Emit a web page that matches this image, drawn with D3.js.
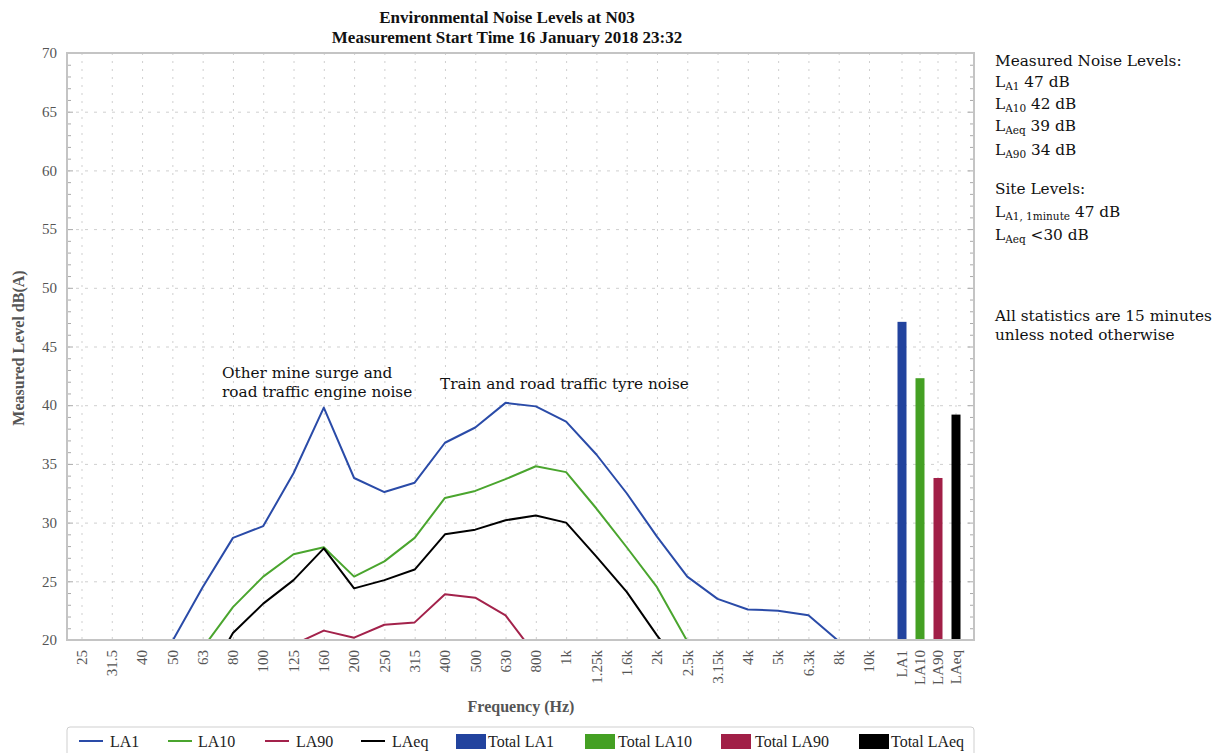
<!DOCTYPE html>
<html>
<head>
<meta charset="utf-8">
<script src="https://cdn.jsdelivr.net/npm/d3@7"></script>
<style>
  body { margin: 0; background: #fff; }
  svg { display: block; font-family: "Liberation Serif", "DejaVu Serif", serif; }
  .tick-label { fill: #555; font-size: 15px; }
  .note { fill: #111; font-size: 15.3px; font-family: "DejaVu Serif", serif; }
</style>
</head>
<body>
<svg id="chart" width="1217" height="753"></svg>
<script>
// frequency bands (Hz) and the four total columns
const freq_labels = ["25", "31.5", "40", "50", "63", "80", "100", "125", "160", "200",
  "250", "315", "400", "500", "630", "800", "1k", "1.25k", "1.6k", "2k", "2.5k",
  "3.15k", "4k", "5k", "6.3k", "8k", "10k"];
const total_labels = ["LA1", "LA10", "LA90", "LAeq"];

// spectra dB(A), null where nothing is drawn
const la1 = [null, null, null, 19.9, 24.5, 28.7, 29.7, 34.2, 39.8, 33.8, 32.6, 33.4,
  36.8, 38.1, 40.2, 39.9, 38.6, 35.8, 32.5, 28.8, 25.4, 23.5, 22.6, 22.5, 22.1, 19.9, null];
const la10 = [null, null, null, null, 19.3, 22.8, 25.4, 27.3, 27.9, 25.4, 26.7, 28.7,
  32.1, 32.7, 33.7, 34.8, 34.3, 31.2, 27.9, 24.5, 19.9, null, null, null, null, null, null];
const la90 = [null, null, null, null, null, null, null, 19.6, 20.8, 20.2, 21.3, 21.5,
  23.9, 23.6, 22.1, 18.7, null, null, null, null, null, null, null, null, null, null, null];
const laeq = [null, null, null, null, 16.0, 20.6, 23.1, 25.1, 27.8, 24.4, 25.1, 26.0,
  29.0, 29.4, 30.2, 30.6, 30.0, 27.1, 24.1, 20.4, 17.0, null, null, null, null, null, null];
const totals = [47.1, 42.3, 33.8, 39.2];

const y_ticks = [20, 25, 30, 35, 40, 45, 50, 55, 60, 65, 70];

const svg = d3.select("#chart");
const plot = { left: 67, right: 974, top: 53, bottom: 640 };

const y = d3.scaleLinear().domain([20, 70]).range([plot.bottom, plot.top]);
const x = d3.scalePoint().domain(freq_labels).range([81.5, 869]);
const xb = d3.scaleBand().domain(total_labels).range([893, 965])
  .paddingInner(0.5).paddingOuter(0.25);

const series = [
  { name: "LA1", values: la1, color: "#2a4ba8" },
  { name: "LA10", values: la10, color: "#4aa52e" },
  { name: "LA90", values: la90, color: "#a3224b" },
  { name: "LAeq", values: laeq, color: "#000000" },
];
const bar_colors = ["#22439e", "#44a023", "#a11f47", "#000000"];

// title
svg.append("text").attr("x", 507).attr("y", 23).attr("text-anchor", "middle")
  .attr("font-weight", "bold").attr("font-size", 17).attr("fill", "#111")
  .text("Environmental Noise Levels at N03");
svg.append("text").attr("x", 507).attr("y", 43).attr("text-anchor", "middle")
  .attr("font-weight", "bold").attr("font-size", 17).attr("fill", "#111")
  .text("Measurement Start Time 16 January 2018 23:32");

// grid
const grid = svg.append("g").attr("stroke", "#cfcfcf").attr("stroke-width", 1);
grid.selectAll(".hg").data(y_ticks.slice(1, -1)).join("line")
  .attr("x1", plot.left).attr("x2", plot.right)
  .attr("y1", (d) => y(d) + 0.5).attr("y2", (d) => y(d) + 0.5)
  .attr("stroke-dasharray", "3,6");
grid.selectAll(".vg").data(freq_labels).join("line")
  .attr("x1", (d) => x(d) + 0.5).attr("x2", (d) => x(d) + 0.5)
  .attr("y1", plot.top).attr("y2", plot.bottom)
  .attr("stroke-dasharray", "2,6");
grid.selectAll(".vb").data(total_labels).join("line")
  .attr("x1", (d) => xb(d) + xb.bandwidth() / 2).attr("x2", (d) => xb(d) + xb.bandwidth() / 2)
  .attr("y1", plot.top).attr("y2", plot.bottom)
  .attr("stroke-dasharray", "2,6");

// y axis labels + minor ticks
svg.append("g").selectAll("text").data(y_ticks).join("text")
  .attr("class", "tick-label").attr("x", 57).attr("y", (d) => y(d))
  .attr("dy", "0.35em").attr("text-anchor", "end").text((d) => d);
const minor = d3.range(20, 71);
svg.append("g").attr("stroke", "#aaa").selectAll("line").data(minor).join("line")
  .attr("x1", plot.left).attr("x2", (d) => plot.left + (d % 5 === 0 ? 6 : 4))
  .attr("y1", (d) => y(d) + 0.5).attr("y2", (d) => y(d) + 0.5);
svg.append("g").attr("stroke", "#aaa").selectAll("line").data(minor).join("line")
  .attr("x1", plot.right).attr("x2", (d) => plot.right - (d % 5 === 0 ? 6 : 4))
  .attr("y1", (d) => y(d) + 0.5).attr("y2", (d) => y(d) + 0.5);

svg.append("text").attr("transform", "translate(24, 348) rotate(-90)")
  .attr("text-anchor", "middle").attr("font-size", 16).attr("font-weight", "bold")
  .attr("fill", "#555").text("Measured Level dB(A)");

// x labels
svg.append("g").selectAll("text").data(freq_labels).join("text")
  .attr("class", "tick-label")
  .attr("transform", (d) => `translate(${x(d)}, 650) rotate(-90)`)
  .attr("dy", "0.35em").attr("text-anchor", "end").text((d) => d);
svg.append("g").selectAll("text").data(total_labels).join("text")
  .attr("class", "tick-label")
  .attr("transform", (d) => `translate(${xb(d) + xb.bandwidth() / 2}, 650) rotate(-90)`)
  .attr("dy", "0.35em").attr("text-anchor", "end").text((d) => d);

svg.append("text").attr("x", 521).attr("y", 712).attr("text-anchor", "middle")
  .attr("font-size", 16).attr("font-weight", "bold").attr("fill", "#555")
  .text("Frequency (Hz)");

// lines
svg.append("clipPath").attr("id", "clip").append("rect")
  .attr("x", plot.left).attr("y", plot.top)
  .attr("width", plot.right - plot.left).attr("height", plot.bottom - plot.top);

const line = d3.line()
  .defined((d) => d.v !== null)
  .x((d) => x(d.f))
  .y((d) => y(d.v));

svg.append("g").attr("clip-path", "url(#clip)")
  .selectAll("path").data(series).join("path")
  .attr("fill", "none")
  .attr("stroke", (d) => d.color)
  .attr("stroke-width", 2)
  .attr("stroke-linejoin", "round")
  .attr("d", (d) => line(d.values.map((v, i) => ({ f: freq_labels[i], v: v }))));

// total bars
svg.append("g").selectAll("rect").data(totals).join("rect")
  .attr("x", (d, i) => xb(total_labels[i]))
  .attr("width", xb.bandwidth())
  .attr("y", (d) => y(d))
  .attr("height", (d) => y(20) - y(d))
  .attr("fill", (d, i) => bar_colors[i]);

// frame
svg.append("rect").attr("x", plot.left).attr("y", plot.top)
  .attr("width", plot.right - plot.left).attr("height", plot.bottom - plot.top)
  .attr("fill", "none").attr("stroke", "#c4c4c4").attr("stroke-width", 2);

// annotations
svg.append("text").attr("class", "note").attr("x", 222).attr("y", 378).text("Other mine surge and");
svg.append("text").attr("class", "note").attr("x", 222).attr("y", 397).text("road traffic engine noise");
svg.append("text").attr("class", "note").attr("x", 440).attr("y", 389).text("Train and road traffic tyre noise");

// side panel
const side = [
  { y: 66, parts: [["", "Measured Noise Levels:"]] },
  { y: 87, parts: [["L", ""], ["A1", "sub"], [" 47 dB", ""]] },
  { y: 109, parts: [["L", ""], ["A10", "sub"], [" 42 dB", ""]] },
  { y: 131, parts: [["L", ""], ["Aeq", "sub"], [" 39 dB", ""]] },
  { y: 155, parts: [["L", ""], ["A90", "sub"], [" 34 dB", ""]] },
  { y: 194, parts: [["", "Site Levels:"]] },
  { y: 217, parts: [["L", ""], ["A1, 1minute", "sub"], [" 47 dB", ""]] },
  { y: 240, parts: [["L", ""], ["Aeq", "sub"], [" <30 dB", ""]] },
  { y: 321, parts: [["", "All statistics are 15 minutes"]] },
  { y: 340, parts: [["", "unless noted otherwise"]] },
];
side.forEach((row) => {
  const t = svg.append("text").attr("class", "note").attr("x", 995).attr("y", row.y);
  row.parts.forEach((p) => {
    if (p[0] === "") {
      t.append("tspan").text(p[1]);
    } else if (p[1] === "sub") {
      t.append("tspan").attr("font-size", 10.5).attr("dy", 3).text(p[0]);
    } else {
      const ts = t.append("tspan").text(p[0]);
      if (p[0] !== "L") ts.attr("dy", -3);
    }
  });
});

// legend
svg.append("rect").attr("x", 67).attr("y", 727).attr("width", 907).attr("height", 40)
  .attr("rx", 3).attr("fill", "#fff").attr("stroke", "#cfcfcf");
const legend_items = [
  { label: "LA1", color: series[0].color, type: "line", x: 79, tx: 110 },
  { label: "LA10", color: series[1].color, type: "line", x: 168, tx: 198 },
  { label: "LA90", color: series[2].color, type: "line", x: 265, tx: 296 },
  { label: "LAeq", color: series[3].color, type: "line", x: 361, tx: 392 },
  { label: "Total LA1", color: bar_colors[0], type: "box", x: 456, tx: 488 },
  { label: "Total LA10", color: bar_colors[1], type: "box", x: 585, tx: 618 },
  { label: "Total LA90", color: bar_colors[2], type: "box", x: 721, tx: 755 },
  { label: "Total LAeq", color: bar_colors[3], type: "box", x: 859, tx: 891 },
];
const lg = svg.append("g");
legend_items.forEach((d) => {
  if (d.type === "line") {
    lg.append("line").attr("x1", d.x).attr("x2", d.x + 24).attr("y1", 741).attr("y2", 741)
      .attr("stroke", d.color).attr("stroke-width", 2);
  } else {
    lg.append("rect").attr("x", d.x).attr("y", 734).attr("width", 30).attr("height", 15)
      .attr("fill", d.color);
  }
  lg.append("text").attr("x", d.tx).attr("y", 741).attr("dy", "0.35em")
    .attr("font-size", 16).attr("fill", "#222").text(d.label);
});
</script>
</body>
</html>
